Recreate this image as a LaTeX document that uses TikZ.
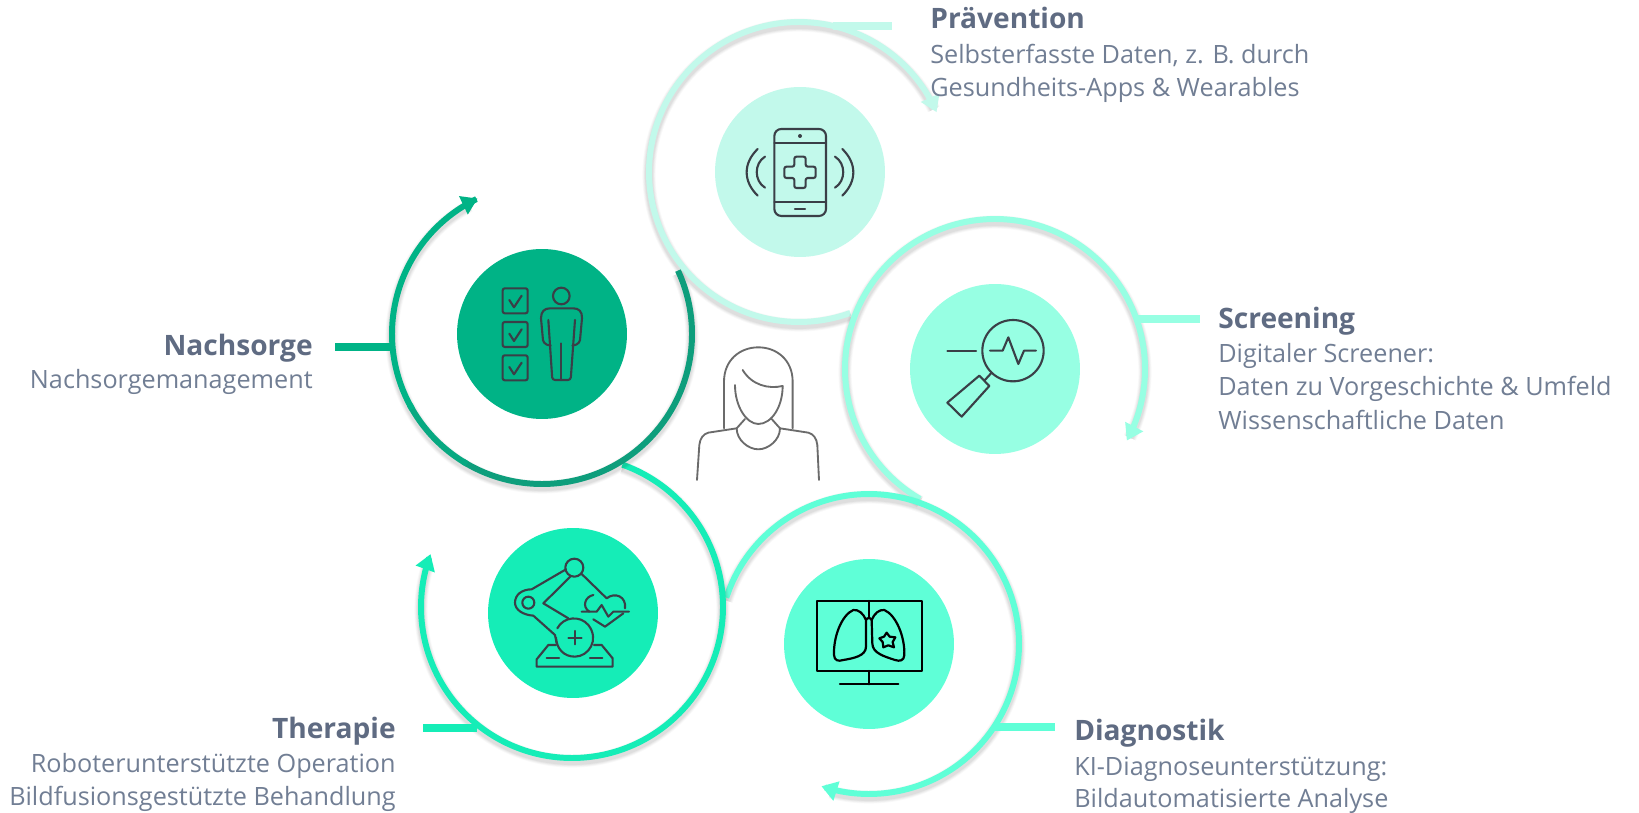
\documentclass[tikz,border=0pt]{standalone}
\usepackage{fontspec}
\setmainfont{Open Sans}
\usetikzlibrary{arrows.meta}
\definecolor{cPrae}{HTML}{C2F9EB}
\definecolor{cScr}{HTML}{97FFE3}
\definecolor{cDia}{HTML}{5FFFD7}
\definecolor{cThe}{HTML}{15EDB7}
\definecolor{cNach}{HTML}{00B386}
\definecolor{cNachD}{HTML}{0E9E7C}
\definecolor{cNachM}{HTML}{07A981}
\definecolor{cTitle}{HTML}{5F6B82}
\definecolor{cBody}{HTML}{717E94}
\definecolor{cIcon}{HTML}{3A3F47}
\tikzset{
  disc/.style={circle,draw=none,inner sep=0pt,minimum size=3.4cm},
  ttl/.style={inner sep=0pt,text=cTitle,font=\fontsize{16}{19}\selectfont\bfseries},
  bdy/.style={inner sep=0pt,text=cBody,font=\fontsize{14.35}{17}\selectfont},
  tail/.style={line width=4pt},
  ico/.style={draw=cIcon,line width=1.2pt,line cap=round,line join=round},
  icoB/.style={draw=black,line width=1.25pt,line cap=round,line join=round},
  wom/.style={draw=black!58,line width=1.05pt,line cap=round,line join=round},
  tip/.style={-{Triangle[length=9pt,width=11pt]}},
  zoomed/.style={x=0.0066667cm,y=-0.0066667cm},
}
% centre x, centre y, radius, start, end
\newcommand{\shadowarc}[5]{%
  \foreach \w/\o in {7.5pt/.025,6.5pt/.03,5.5pt/.035,4.5pt/.04}{%
    \draw[black,opacity=\o,line width=\w,domain=#4:#5,samples=180,variable=\t]
      plot ({#1+#3*cos(\t)},{#2+3-#3*sin(\t)});}}
\newcommand{\ringarc}[7]{%
  \draw[#6,line width=3.4pt,#7,domain=#4:#5,samples=180,variable=\t]
    plot ({#1+#3*cos(\t)},{#2-#3*sin(\t)});}
\begin{document}
\begin{tikzpicture}[x=0.02cm,y=-0.02cm]
\useasboundingbox (0,0) rectangle (1639,813);
\fill[white] (0,0) rectangle (1639,813);

% Praevention
\coordinate (tp1) at (833,26); \coordinate (tp2) at (892,26);
\shadowarc{799}{172}{150}{-70}{-334}
\draw[tail,cPrae] (tp1) -- (tp2);
\ringarc{799}{172}{150}{-70}{-336.5}{cPrae}{tip}
\node[disc,fill=cPrae] (dPrae) at (800,172) {};

% Screening
\coordinate (ts1) at (1136,319); \coordinate (ts2) at (1200,319);
\shadowarc{995}{369}{150}{240}{-26}
\draw[tail,cScr] (ts1) -- (ts2);
\ringarc{995}{369}{150}{240}{-28.5}{cScr}{tip}
\node[disc,fill=cScr] (dScr) at (995,369) {};

% Diagnostik
\coordinate (td1) at (994,727); \coordinate (td2) at (1055,727);
\shadowarc{869}{644}{150}{162}{-105}
\draw[tail,cDia] (td1) -- (td2);
\ringarc{869}{644}{150}{162}{-108.5}{cDia}{tip}
\node[disc,fill=cDia] (dDia) at (869,644) {};

% Therapie
\coordinate (tt1) at (423,728); \coordinate (tt2) at (477,728);
\shadowarc{572}{607}{151}{70.5}{-198}
\draw[tail,cThe] (tt1) -- (tt2);
\ringarc{572}{607}{151}{70.5}{-200.5}{cThe}{tip}
\node[disc,fill=cThe] (dThe) at (573,613) {};

% Nachsorge
\coordinate (tn1) at (335,347); \coordinate (tn2) at (392,347);
\shadowarc{542}{334}{150}{25}{-241}
\draw[tail,cNach] (tn1) -- (tn2);
\ringarc{542}{334}{150}{25}{-122}{cNachD}{}
\ringarc{542}{334}{150}{-120}{-152}{cNachM}{}
\ringarc{542}{334}{150}{-150}{-244.6}{cNach}{tip}
\node[disc,fill=cNach] (dNach) at (542,334) {};

% Phone icon
\begin{scope}[shift={(600,0)},zoomed]
\draw[ico,rounded corners=4pt] (523,387) rectangle (678,648);
\draw[ico] (523,428) -- (678,428) (523,605) -- (678,605) (585,626) -- (615,626);
\fill[cIcon] (600,408) circle (6);
\draw[ico,rounded corners=1.2pt] (583,470) -- (617,470) -- (617,500) -- (647,500) -- (647,534) -- (617,534) -- (617,564) -- (583,564) -- (583,534) -- (553,534) -- (553,500) -- (583,500) -- cycle;
\draw[ico] (473,447) .. controls (429,490) and (429,544) .. (473,587);
\draw[ico] (495,470) .. controls (462,490) and (462,543) .. (495,563);
\draw[ico] (727,447) .. controls (771,490) and (771,544) .. (727,587);
\draw[ico] (705,470) .. controls (738,490) and (738,543) .. (705,563);
\end{scope}

% Checklist and person icon
\begin{scope}[shift={(360,180)},zoomed]
\foreach \yy in {325,426,526}{
  \draw[ico,rounded corners=1.2pt] (428,\yy) rectangle (503,\yy+75);
  \draw[ico] (448,\yy+35) -- (462,\yy+57) -- (485,\yy+22);
}
\draw[ico] (604,348) circle (25);
\draw[ico] (572,497) .. controls (552,494) and (548,485) .. (548,470) -- (543,415) .. controls (543,395) and (553,385) .. (570,385) -- (640,385) .. controls (657,385) and (667,395) .. (666,415) -- (661,470) .. controls (661,485) and (657,494) .. (637,497);
\draw[ico,rounded corners=1.5pt] (565,420) -- (577,600) -- (632,600) -- (645,420);
\draw[ico] (604,490) -- (604,600);
\end{scope}

% Magnifier icon
\begin{scope}[shift={(860,260)},zoomed]
\draw[ico] (459,272) circle (92);
\draw[ico] (262,272) -- (348,272);
\draw[ico] (390,272) -- (428,272) -- (445,232) -- (475,312) -- (492,272) -- (528,272);
\draw[ico] (358,347) -- (388,378) -- (305,470) -- (262,428) -- cycle;
\draw[ico] (373,362) -- (395,338);
\end{scope}

% Robot icon
\begin{scope}[shift={(460,500)},zoomed]
\draw[ico] (343,203) circle (27);
\draw[ico] (205,308) circle (18);
\draw[ico] (318,208) -- (215,268) .. controls (185,268) and (165,285) .. (165,308) .. controls (165,330) and (190,345) .. (220,347) -- (285,405) -- (290,430);
\draw[ico] (333,228) -- (250,310) -- (325,355);
\draw[ico] (365,222) -- (440,295) .. controls (465,275) and (500,290) .. (495,325);
\draw[ico] (400,285) .. controls (375,290) and (365,320) .. (388,335);
\draw[ico] (365,335) -- (410,335) -- (425,315) -- (445,350) -- (460,335) -- (507,335);
\draw[ico] (400,358) -- (435,380) -- (490,340);
\draw[ico] (292,385) .. controls (310,350) and (360,345) .. (385,375) .. controls (420,420) and (385,470) .. (345,470) .. controls (310,470) and (290,445) .. (288,413);
\draw[ico] (325,413) -- (365,413) (345,393) -- (345,433);
\draw[ico] (288,435) -- (265,435) -- (230,478) -- (230,500) -- (458,500) -- (458,475) -- (425,435) -- (402,435);
\draw[ico] (260,475) -- (297,475) (390,475) -- (427,475);
\end{scope}

% Monitor and lungs icon
\begin{scope}[shift={(740,530)},zoomed]
\draw[icoB] (230,213) rectangle (545,423);
\draw[icoB] (387,213) -- (387,265);
\draw[icoB] (387,423) -- (387,463) (300,463) -- (475,463);
\draw[icoB] (378,270) .. controls (370,250) and (355,238) .. (340,240) .. controls (305,255) and (280,320) .. (282,375) .. controls (283,392) and (295,395) .. (310,390) .. controls (340,385) and (378,378) .. (378,350) -- cycle;
\draw[icoB] (395,270) .. controls (403,250) and (418,238) .. (433,240) .. controls (468,255) and (495,320) .. (493,375) .. controls (492,392) and (480,395) .. (465,390) .. controls (435,380) and (397,370) .. (397,340) -- cycle;
\draw[icoB] (378,270) .. controls (382,262) and (391,262) .. (395,270);
\draw[icoB] (440,308) -- (449,320) -- (466,322) -- (458,336) -- (462,352) -- (445,346) -- (430,352) -- (428,336) -- (418,325) -- (432,320) -- cycle;
\end{scope}

% Patient
\begin{scope}[shift={(640,320)},zoomed]
\draw[wom] (252,325) -- (252,185) .. controls (252,120) and (300,82) .. (355,82) .. controls (410,82) and (458,120) .. (458,185) -- (458,325);
\draw[wom] (308,150) .. controls (335,195) and (385,208) .. (428,198);
\draw[wom] (285,195) .. controls (285,260) and (320,312) .. (355,312) .. controls (395,312) and (428,260) .. (428,198);
\draw[wom] (315,297) -- (290,325) .. controls (290,360) and (325,388) .. (355,388) .. controls (385,388) and (420,360) .. (420,325) -- (395,297);
\draw[wom] (290,325) -- (205,338) .. controls (190,342) and (180,355) .. (178,375) -- (171,480);
\draw[wom] (420,325) -- (505,338) .. controls (520,342) and (530,355) .. (532,375) -- (537,480);
\end{scope}

% Labels
\node[ttl,anchor=base west] (l1a) at (930,29) {Prävention};
\node[bdy,anchor=base west] (l1b) at (930,64) {Selbsterfasste Daten, z. B. durch};
\node[bdy,anchor=base west] (l1c) at (930,97) {Gesundheits-Apps \& Wearables};

\node[ttl,anchor=base west] (l2a) at (1218,329) {Screening};
\node[bdy,anchor=base west] (l2b) at (1218,363) {Digitaler Screener:};
\node[bdy,anchor=base west] (l2c) at (1218,396) {Daten zu Vorgeschichte \& Umfeld};
\node[bdy,anchor=base west] (l2d) at (1218,430) {Wissenschaftliche Daten};

\node[ttl,anchor=base west] (l3a) at (1074,740) {Diagnostik};
\node[bdy,anchor=base west] (l3b) at (1074,775) {KI-Diagnoseunterstützung:};
\node[bdy,anchor=base west] (l3c) at (1074,807) {Bildautomatisierte Analyse};

\node[ttl,anchor=base east] (l4a) at (396,738) {Therapie};
\node[bdy,anchor=base east] (l4b) at (396,772) {Roboterunterstützte Operation};
\node[bdy,anchor=base east] (l4c) at (396,805) {Bildfusionsgestützte Behandlung};

\node[ttl,anchor=base east] (l5a) at (313,356) {Nachsorge};
\node[bdy,anchor=base east] (l5b) at (313,389) {Nachsorgemanagement};
\end{tikzpicture}
\end{document}
